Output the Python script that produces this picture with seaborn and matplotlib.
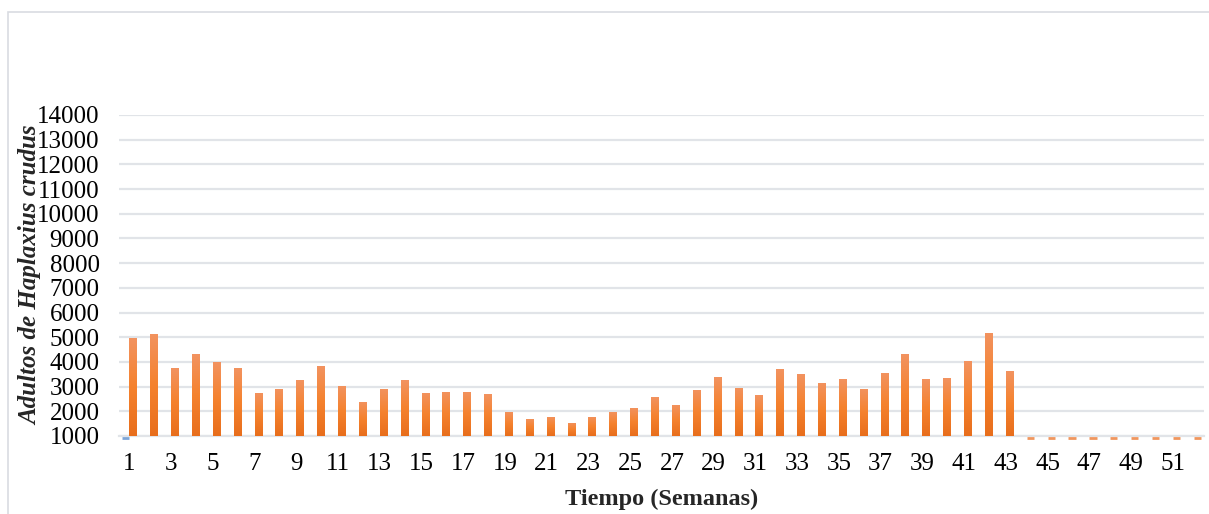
import numpy as np
import pandas as pd
import matplotlib
matplotlib.use('Agg')
import matplotlib.pyplot as plt
import matplotlib.transforms as mtransforms
from matplotlib.colors import LinearSegmentedColormap
from matplotlib.patches import Rectangle
import seaborn as sns

# semanas 1-52, adultos capturados (serie 1); semanas 44-52 sin captura
semanas = list(range(1, 53))
adultos = [4950, 5150, 3740, 4310, 3990, 3740, 2760, 2920, 3250, 3830,
           3040, 2390, 2920, 3250, 2760, 2800, 2800, 2680, 1990, 1700,
           1780, 1540, 1780, 1990, 2150, 2560, 2270, 2880, 3370, 2960,
           2640, 3700, 3500, 3160, 3290, 2920, 3570, 4310, 3290, 3330,
           4020, 5190, 3620, 0, 0, 0, 0, 0, 0, 0, 0, 0]
# segunda serie: solo un valor en la semana 1
serie2 = [0] + [np.nan] * 51
yticks = list(range(1000, 15000, 1000))
xticks_lab = [str(s) for s in semanas if s % 2 == 1]

df = pd.DataFrame({
    'Semana': [str(s) for s in semanas] * 2,
    'Adultos': adultos + serie2,
    'Serie': ['Serie 1'] * 52 + ['Serie 2'] * 52,
})

sns.set_style('white')
plt.rcParams['font.family'] = ['Liberation Serif', 'DejaVu Serif']

fig = plt.figure(figsize=(12.09, 5.14), dpi=100)
ax = fig.add_axes([0.0984, 0.1518, 0.8975, 0.6245])

sns.barplot(data=df, x='Semana', y='Adultos', hue='Serie', hue_order=['Serie 2', 'Serie 1'],
            palette={'Serie 1': '#F58232', 'Serie 2': '#7EA6D8'}, width=0.7,
            legend=False, ax=ax, zorder=3)

ax.set_ylim(1000, 14000)
ax.set_xlim(-0.5, 51.5)
ax.set_yticks(yticks)
ax.set_xticks([i for i in range(52) if i % 2 == 0])
ax.set_xticklabels(xticks_lab)

# degradado naranja en cada barra, y rayas para los valores bajo el minimo
cmap = LinearSegmentedColormap.from_list('naranja', ['#E86E1C', '#F5822E', '#F29360'])
grad = np.linspace(0, 1, 256).reshape(-1, 1)
off = mtransforms.ScaledTranslation(0, -2 / 100, fig.dpi_scale_trans)
ylo = ax.get_ylim()[0]
for p in list(ax.patches):
    h = p.get_height()
    if np.isnan(h):
        continue
    x0 = p.get_x()
    x1 = x0 + p.get_width()
    if h <= ylo:
        col = '#7EA6D8' if p.get_facecolor()[2] > 0.6 else '#F0965E'
        ax.plot([x0, x1], [ylo, ylo], color=col, lw=2, solid_capstyle='butt',
                transform=ax.transData + off, clip_on=False, zorder=5)
        continue
    p.set_edgecolor('none')
    im = ax.imshow(grad, cmap=cmap, aspect='auto', origin='lower',
                   extent=[x0, x1, ylo, h], zorder=3)
    im.set_clip_path(p)

ax.set_xlim(-0.5, 51.5)
ax.set_ylim(1000, 14000)

ax.yaxis.grid(True, color='#E1E4E8', lw=1.6, zorder=0)
ax.set_axisbelow(True)
for s in ['top', 'right', 'left']:
    ax.spines[s].set_visible(False)
ax.spines['bottom'].set_color('#E1E4E8')
ax.spines['bottom'].set_linewidth(1.6)
ax.tick_params(axis='both', length=0, labelsize=18, colors='black')
ax.tick_params(axis='y', pad=14)
ax.tick_params(axis='x', pad=12)

ax.set_xlabel('Tiempo (Semanas)', fontsize=17.5, fontweight='bold', labelpad=10)
ax.set_ylabel('Adultos de Haplaxius crudus', fontsize=18, fontweight='bold',
              fontstyle='italic')
ax.yaxis.set_label_coords(-0.071, 0.5)

fig.patches.append(Rectangle((8 / 1209, -0.2), 1.5, 1 - 12 / 514 + 0.2,
                             transform=fig.transFigure, fill=False,
                             edgecolor='#D9DCE1', lw=1.2))

fig.savefig('out.png', dpi=100)
